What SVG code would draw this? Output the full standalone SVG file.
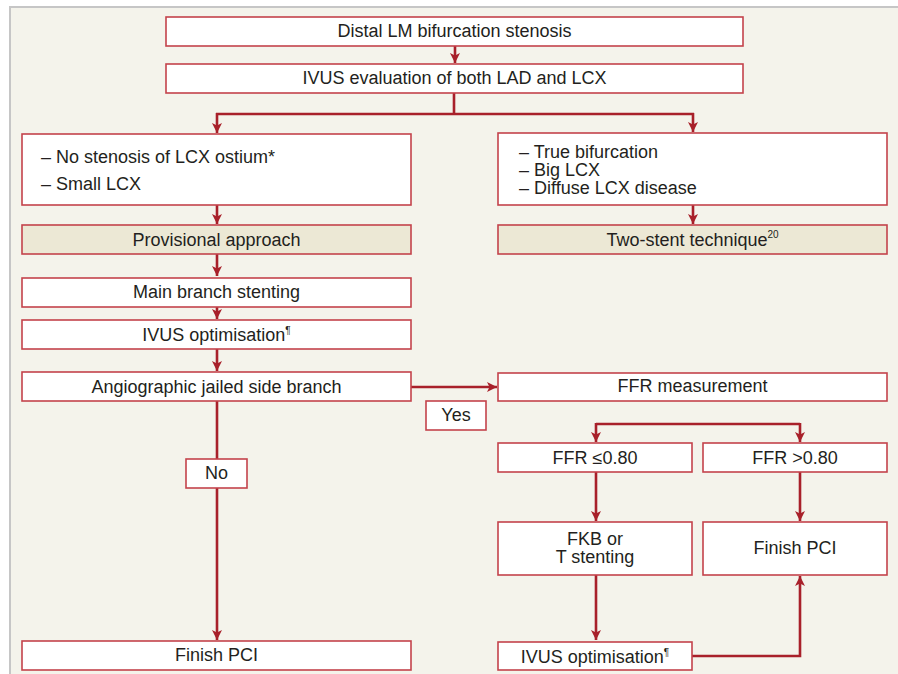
<svg xmlns="http://www.w3.org/2000/svg" width="898" height="674" viewBox="0 0 898 674">
<defs>
<style>
.bg{fill:#f4f3eb}
.frame{stroke:#c6c6c6;stroke-width:2;fill:none}
.box{fill:#ffffff;stroke:#c4434b;stroke-width:1.6}
.tan{fill:#ece8d5;stroke:#c4434b;stroke-width:1.6}
.t{font-family:"Liberation Sans",Arial,sans-serif;font-size:18px;fill:#231f20}
.c{text-anchor:middle}
.sup{font-size:10px}
.conn{fill:none;stroke:#a8202a;stroke-width:2.6}
</style>
<marker id="ah" viewBox="0 0 10 10" refX="10" refY="5" markerWidth="10" markerHeight="10" markerUnits="userSpaceOnUse" orient="auto">
<path d="M0,0 L10,5 L0,10 L2.5,5 Z" fill="#a8202a"/>
</marker>
</defs>
<rect x="0" y="0" width="898" height="674" fill="#ffffff"/>
<rect class="bg" x="10" y="7" width="888" height="667"/>
<path class="frame" d="M10,674 L10,7 L898,7"/>

<g id="connectors">
<line class="conn" x1="455" y1="46" x2="455" y2="63" marker-end="url(#ah)"/>
<path class="conn" d="M454,93 V114 M216,114 H694"/>
<path class="conn" d="M217,113 V133" marker-end="url(#ah)"/>
<path class="conn" d="M693,113 V132" marker-end="url(#ah)"/>
<line class="conn" x1="217" y1="205" x2="217" y2="224" marker-end="url(#ah)"/>
<line class="conn" x1="693" y1="205" x2="693" y2="224" marker-end="url(#ah)"/>
<line class="conn" x1="217" y1="254" x2="217" y2="276" marker-end="url(#ah)"/>
<line class="conn" x1="217" y1="307" x2="217" y2="319" marker-end="url(#ah)"/>
<line class="conn" x1="217" y1="349" x2="217" y2="371" marker-end="url(#ah)"/>
<line class="conn" x1="411" y1="387" x2="497" y2="387" marker-end="url(#ah)"/>
<line class="conn" x1="217" y1="401" x2="217" y2="640" marker-end="url(#ah)"/>
<path class="conn" d="M596,424 H800"/>
<line class="conn" x1="596" y1="423" x2="596" y2="442" marker-end="url(#ah)"/>
<line class="conn" x1="800" y1="423" x2="800" y2="442" marker-end="url(#ah)"/>
<line class="conn" x1="596" y1="472" x2="596" y2="521" marker-end="url(#ah)"/>
<line class="conn" x1="800" y1="472" x2="800" y2="521" marker-end="url(#ah)"/>
<line class="conn" x1="596" y1="575" x2="596" y2="640" marker-end="url(#ah)"/>
<path class="conn" d="M692,656 H800 V576" marker-end="url(#ah)"/>
</g>

<g id="n1"><rect class="box" x="166" y="17" width="577" height="29"/><text class="t c" x="454.5" y="37">Distal LM bifurcation stenosis</text></g>
<g id="n2"><rect class="box" x="166" y="64" width="577" height="29"/><text class="t c" x="454.5" y="84">IVUS evaluation of both LAD and LCX</text></g>
<g id="n3"><rect class="box" x="22" y="134" width="389" height="71"/>
<text class="t" x="41" y="163">– No stenosis of LCX ostium*</text>
<text class="t" x="41" y="190">– Small LCX</text></g>
<g id="n4"><rect class="box" x="498" y="133" width="389" height="72"/>
<text class="t" x="519" y="158">– True bifurcation</text>
<text class="t" x="519" y="176">– Big LCX</text>
<text class="t" x="519" y="194">– Diffuse LCX disease</text></g>
<g id="n5"><rect class="tan" x="22" y="225" width="389" height="29"/><text class="t c" x="216.5" y="246">Provisional approach</text></g>
<g id="n6"><rect class="tan" x="498" y="225" width="389" height="29"/><text class="t c" x="692.5" y="246">Two-stent technique<tspan class="sup" dy="-8">20</tspan></text></g>
<g id="n7"><rect class="box" x="22" y="278" width="389" height="29"/><text class="t c" x="216.5" y="298">Main branch stenting</text></g>
<g id="n8"><rect class="box" x="22" y="320" width="389" height="29"/><text class="t c" x="216.5" y="341">IVUS optimisation<tspan class="sup" dy="-7">¶</tspan></text></g>
<g id="n9"><rect class="box" x="22" y="372" width="389" height="29"/><text class="t c" x="216.5" y="393">Angiographic jailed side branch</text></g>
<g id="n10"><rect class="box" x="498" y="373" width="389" height="28"/><text class="t c" x="692.5" y="392">FFR measurement</text></g>
<g id="yes"><rect class="box" x="426" y="401" width="60" height="29"/><text class="t c" x="456" y="421">Yes</text></g>
<g id="no"><rect class="box" x="186" y="459" width="61" height="29"/><text class="t c" x="216.5" y="479">No</text></g>
<g id="n11"><rect class="box" x="498" y="443" width="194" height="29"/><text class="t c" x="595" y="464">FFR ≤0.80</text></g>
<g id="n12"><rect class="box" x="703" y="443" width="184" height="29"/><text class="t c" x="795" y="464">FFR &gt;0.80</text></g>
<g id="n13"><rect class="box" x="498" y="522" width="194" height="53"/>
<text class="t c" x="595" y="545">FKB or</text>
<text class="t c" x="595" y="563">T stenting</text></g>
<g id="n14"><rect class="box" x="703" y="522" width="184" height="53"/><text class="t c" x="795" y="554">Finish PCI</text></g>
<g id="n15"><rect class="box" x="22" y="641" width="389" height="29"/><text class="t c" x="216.5" y="661">Finish PCI</text></g>
<g id="n16"><rect class="box" x="498" y="642" width="194" height="28"/><text class="t c" x="595" y="663">IVUS optimisation<tspan class="sup" dy="-7">¶</tspan></text></g>
</svg>
